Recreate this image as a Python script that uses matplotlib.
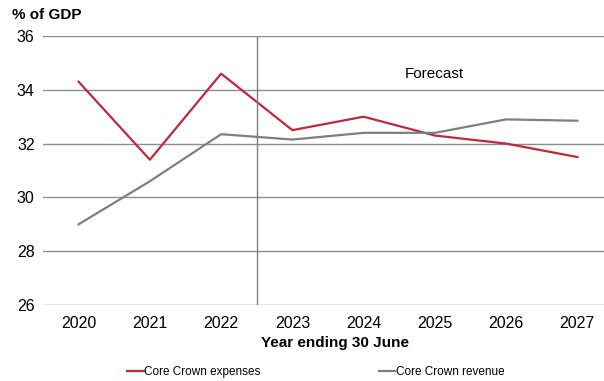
import numpy as np
import matplotlib.pyplot as plt

plt.rcParams['font.family'] = ['Liberation Sans', 'DejaVu Sans']

years = ['2020', '2021', '2022', '2023', '2024', '2025', '2026', '2027']
expenses = [34.3, 31.4, 34.6, 32.5, 33.0, 32.3, 32.0, 31.5]
revenue = [29.0, 30.6, 32.35, 32.15, 32.4, 32.4, 32.9, 32.85]

red = '#C0283C'
grey = '#7F7F7F'

fig = plt.figure(figsize=(6.04, 3.81), dpi=100)
ax = fig.add_axes([43/604, 1 - 305/381, 570/604, 269/381])

x = np.arange(len(years))
ax.plot(x, expenses, color=red, lw=1.6, label='Core Crown expenses')
ax.plot(x, revenue, color=grey, lw=1.6, label='Core Crown revenue')

ax.axvline(2.5, color=grey, lw=1)
ax.text(0.686, 0.86, 'Forecast', transform=ax.transAxes, fontsize=11,
        ha='center', va='center')

ax.set_xlim(-0.5, 7.5)
ax.set_ylim(26, 36)
ax.set_yticks([26, 28, 30, 32, 34, 36])
ax.set_xticks(x)
ax.set_xticklabels(years)
ax.grid(axis='y', color='#8C8C8C', lw=1)
ax.set_axisbelow(True)
for s in ax.spines.values():
    s.set_visible(False)
ax.tick_params(length=0, labelsize=11.5, pad=8)
ax.tick_params(axis='y', pad=6)

ax.set_xlabel('Year ending 30 June', fontsize=11, fontweight='bold', labelpad=1)
ax.xaxis.set_label_coords((335 - 43) / 570, -0.115)
fig.text(12/604, 1 - 15/381, '% of GDP', fontsize=11, fontweight='bold',
         va='center', ha='left')

ax.legend(loc='center', bbox_to_anchor=(316/604, 1 - 372/381),
          bbox_transform=fig.transFigure, ncol=2, frameon=False,
          fontsize=8.5, handlelength=1.4, handletextpad=0.05,
          columnspacing=10.0)

fig.savefig('out.png', dpi=100)
